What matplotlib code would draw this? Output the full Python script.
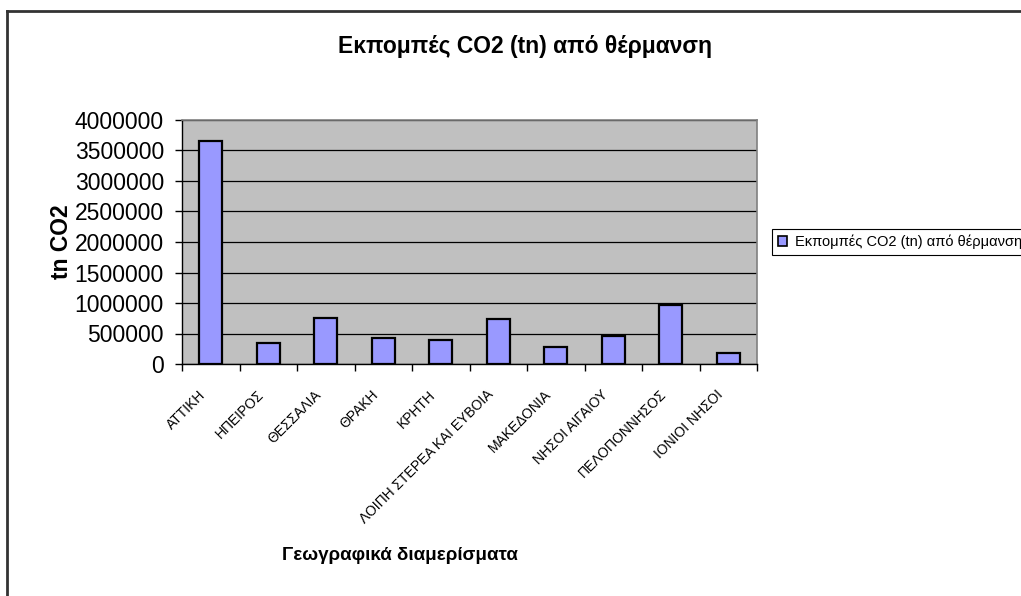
import matplotlib
matplotlib.use("Agg")
import matplotlib.pyplot as plt
from matplotlib.lines import Line2D
from matplotlib.patches import Patch
from matplotlib.transforms import ScaledTranslation

plt.rcParams['font.family'] = ['Liberation Sans', 'DejaVu Sans']

# Regions and heating CO2 emissions (tn)
regions = ["ΑΤΤΙΚΗ", "ΗΠΕΙΡΟΣ", "ΘΕΣΣΑΛΙΑ", "ΘΡΑΚΗ", "ΚΡΗΤΗ",
           "ΛΟΙΠΗ ΣΤΕΡΕΑ ΚΑΙ ΕΥΒΟΙΑ", "ΜΑΚΕΔΟΝΙΑ", "ΝΗΣΟΙ ΑΙΓΑΙΟΥ",
           "ΠΕΛΟΠΟΝΝΗΣΟΣ", "ΙΟΝΙΟΙ ΝΗΣΟΙ"]
emissions = [3660000, 349000, 759000, 421000, 388000,
             733000, 284000, 459000, 962000, 180000]
yticks = [0, 500000, 1000000, 1500000, 2000000, 2500000,
          3000000, 3500000, 4000000]

title = "Εκπομπές CO2 (tn) από θέρμανση"
series_name = "Εκπομπές CO2 (tn) από θέρμανση"
xlabel = "Γεωγραφικά διαμερίσματα"
ylabel = "tn CO2"

W, H = 1021, 596
fig = plt.figure(figsize=(W / 100, H / 100), dpi=100)
fig.patch.set_facecolor("white")

ax = fig.add_axes([182 / W, 1 - 364 / H, (757 - 182) / W, (364 - 120) / H])
ax.set_facecolor("#C0C0C0")

x = list(range(len(regions)))
ax.bar(x, emissions, width=0.4, color="#9999FF", edgecolor="black",
       linewidth=1.6, zorder=3)

ax.set_xlim(-0.5, len(regions) - 0.5)
ax.set_ylim(0, 4000000)
ax.set_yticks(yticks)
ax.set_yticklabels([str(v) for v in yticks], fontsize=16.5)
ax.yaxis.grid(True, color="black", linewidth=0.9, zorder=1)
ax.set_axisbelow(True)

# category labels on major ticks, boundary tick marks on minor ticks
ax.set_xticks(x)
ax.set_xticklabels(regions, rotation=45, ha="right", va="top",
                   rotation_mode="anchor", fontsize=10)
ax.tick_params(axis="x", which="major", length=0, pad=17)
shift = ScaledTranslation(-12 / 100, 0, fig.dpi_scale_trans)
for lbl in ax.get_xticklabels():
    lbl.set_transform(lbl.get_transform() + shift)
ax.set_xticks([i - 0.5 for i in range(len(regions) + 1)], minor=True)
ax.tick_params(axis="x", which="minor", length=5, color="black", width=1)
ax.tick_params(axis="y", length=5, color="black", width=1, pad=8)

for side in ("top", "right"):
    ax.spines[side].set_color("#808080")
    ax.spines[side].set_linewidth(1.2)
for side in ("left", "bottom"):
    ax.spines[side].set_color("black")
    ax.spines[side].set_linewidth(1.0)

fig.text(525 / W, 1 - 47 / H, title, ha="center", va="center",
         fontsize=16.5, fontweight="bold")
fig.text(62 / W, 1 - 242 / H, ylabel, ha="center", va="center",
         rotation=90, fontsize=16.5, fontweight="bold")
fig.text(400 / W, 1 - 555 / H, xlabel, ha="center", va="center",
         fontsize=13.5, fontweight="bold")

handle = Patch(facecolor="#9999FF", edgecolor="black", linewidth=1.2)
leg = fig.legend([handle], [series_name], loc="upper left",
                 bbox_to_anchor=(772 / W, 1 - 229 / H), fontsize=10.5,
                 frameon=True, fancybox=False, framealpha=1,
                 edgecolor="black", handlelength=0.65, handleheight=0.65,
                 handletextpad=0.5, borderpad=0.4, borderaxespad=0)
leg.get_frame().set_linewidth(0.8)

# chart frame edges
fig.add_artist(Line2D([7 / W, 7 / W], [0, 1 - 11 / H], color="#333333",
                      linewidth=2, transform=fig.transFigure))
fig.add_artist(Line2D([7 / W, 1], [1 - 11 / H, 1 - 11 / H], color="#333333",
                      linewidth=2, transform=fig.transFigure))

fig.savefig("out.png", dpi=100)
